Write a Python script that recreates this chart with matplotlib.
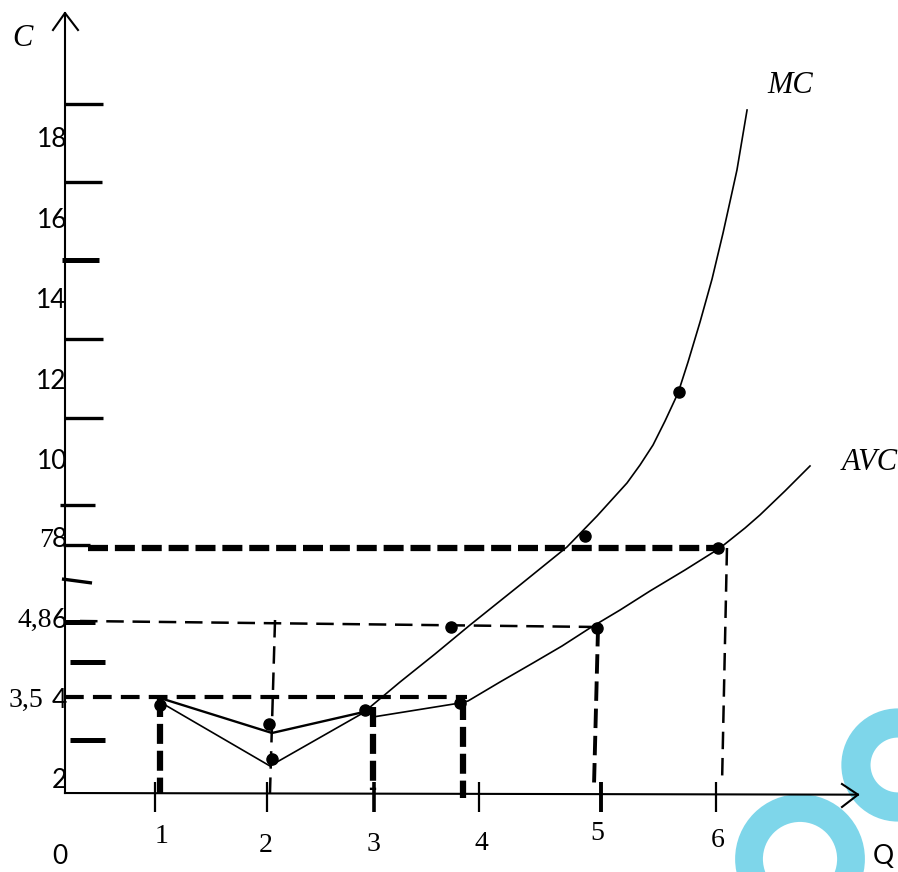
import matplotlib
matplotlib.use("Agg")
from matplotlib import pyplot as plt
from matplotlib.patches import Ellipse

# curves (Q, C)
mc_q = [1.043, 2.023, 2.852, 3.182, 3.494, 3.806, 4.251, 4.670, 4.938, 5.205, 5.321, 5.437, 5.544,
        5.660, 5.749, 5.856, 5.963, 6.061, 6.132, 6.185, 6.230, 6.275]
mc_c = [4.015, 2.423, 3.741, 4.512, 5.209, 5.930, 6.925, 7.871, 8.642, 9.463, 9.910, 10.408, 11.005,
        11.701, 12.473, 13.468, 14.537, 15.682, 16.577, 17.249, 17.995, 18.741]

avc_v_q = [1.043, 2.041, 2.897]
avc_v_c = [4.114, 3.244, 3.791]
avc_q = [2.941, 3.717, 3.788, 4.073, 4.367, 4.626, 4.875, 5.143, 5.410, 5.722, 6.034, 6.257, 6.390, 6.613, 6.836]
avc_c = [3.642, 3.990, 4.040, 4.512, 4.985, 5.408, 5.856, 6.303, 6.776, 7.299, 7.846, 8.343, 8.667, 9.264, 9.886]

# data points
dot_q = [1.043, 2.014, 2.041, 2.870, 3.717, 3.636, 4.938, 4.831, 5.668, 6.016]
dot_c = [3.940, 3.468, 2.597, 3.816, 3.990, 5.881, 5.856, 8.144, 11.726, 7.846]

# axis labels
x_ticks = [0.998, 1.996, 2.950, 3.886, 4.973, 5.998]
x_tick_lw = [1.6, 1.6, 2.6, 1.6, 2.8, 1.6]
x_labels = ["1", "2", "3", "4", "5", "6"]
x_label_q = [1.061, 1.988, 2.950, 3.904, 4.938, 6.016]
x_label_c = [0.657, 0.433, 0.458, 0.507, 0.756, 0.582]

y_labels = ["18", "16", "14", "12", "10", "8", "6", "4", "2"]
y_label_c = [18.0, 16.0, 14.0, 12.0, 10.0, 8.05, 6.05, 4.06, 2.07]
y_extra = ["7", "4,8", "3,5"]
y_extra_c = [8.03, 6.05, 4.06]
y_extra_q = [0.085, 0.082, 0.0]

# dashes on the C axis: (q0, q1, c0, c1, width)
ytk_q0 = [0.196, 0.196, 0.169, 0.196, 0.196, 0.152, 0.178, 0.169, 0.178, 0.241, 0.241]
ytk_q1 = [0.535, 0.526, 0.499, 0.535, 0.535, 0.463, 0.419, 0.437, 0.463, 0.553, 0.553]
ytk_c0 = [18.891, 16.950, 15.010, 13.045, 11.080, 8.915, 7.920, 7.075, 6.005, 5.010, 3.070]
ytk_c1 = [18.891, 16.950, 15.010, 13.045, 11.080, 8.915, 7.920, 6.975, 6.005, 5.010, 3.070]
ytk_lw = [2.4, 2.4, 3.6, 2.4, 2.4, 2.4, 2.4, 2.4, 3.6, 3.6, 3.6]

fig = plt.figure(figsize=(8.98, 8.72), dpi=100)
ax = fig.add_axes([0, 0, 1, 1])
ax.set_xlim(-0.3832, 7.6203)
ax.set_ylim(-0.2139, 21.4776)
ax.axis("off")

ring = "#7ed6ea"
ax.add_patch(Ellipse((6.747, 0.109), 0.909, 2.537, fill=False, ec=ring, lw=20))
ax.add_patch(Ellipse((7.620, 2.448), 0.749, 2.09, fill=False, ec=ring, lw=21))

# axes with arrows
ax.plot([0.196, 0.196], [1.751, 21.154], color="black", lw=1.5)
ax.plot([0.089, 0.196, 0.312], [20.731, 21.154, 20.731], color="black", lw=1.5)
ax.plot([0.196, 7.264], [1.751, 1.71], color="black", lw=1.5)
ax.plot([7.121, 7.264, 7.121], [1.975, 1.71, 1.403], color="black", lw=1.5)

for i in range(len(ytk_q0)):
    ax.plot([ytk_q0[i], ytk_q1[i]], [ytk_c0[i], ytk_c1[i]], color="black", lw=ytk_lw[i], solid_capstyle="butt")
for i in range(len(x_ticks)):
    ax.plot([x_ticks[i], x_ticks[i]], [2.025, 1.279], color="black", lw=x_tick_lw[i], solid_capstyle="butt")

# guide lines
ax.plot([0.401, 6.034], [7.846, 7.846], color="black", lw=4.5, dashes=(3.2, 1.1))
ax.plot([6.096, 6.052], [7.846, 1.999], color="black", lw=1.8, dashes=(7, 3.5))
ax.plot([0.330, 4.938], [6.030, 5.881], color="black", lw=1.8, dashes=(7, 3.5))
ax.plot([4.947, 4.911], [5.881, 1.95], color="black", lw=2.8, dashes=(5, 2))
ax.plot([2.068, 2.023], [6.055, 1.751], color="black", lw=1.8, dashes=(7, 3.5))
ax.plot([0.196, 3.779], [4.139, 4.139], color="black", lw=3.0, dashes=(4.5, 2.2))
ax.plot([1.043, 1.043], [4.139, 1.751], color="black", lw=4.5, dashes=(3.2, 1.1))
ax.plot([2.941, 2.941], [3.891, 1.826], color="black", lw=4.5, dashes=(3.2, 1.1))
ax.plot([3.743, 3.743], [4.065, 1.627], color="black", lw=4.5, dashes=(3.2, 1.1))

# cost curves
ax.plot(mc_q, mc_c, color="black", lw=1.2, solid_joinstyle="round")
ax.plot(avc_v_q, avc_v_c, color="black", lw=1.7)
ax.plot(avc_q, avc_c, color="black", lw=1.2, solid_joinstyle="round")
ax.plot(dot_q, dot_c, "o", color="black", ms=8)

# texts
serif = "Liberation Serif"
sans = "Lato"
for i in range(len(y_labels)):
    ax.text(0.214, y_label_c[i], y_labels[i], family=sans, fontsize=19, ha="right", va="center")
for i in range(len(y_extra)):
    ax.text(y_extra_q[i], y_extra_c[i], y_extra[i], family=serif, fontsize=20, ha="right", va="center")
for i in range(len(x_labels)):
    ax.text(x_label_q[i], x_label_c[i], x_labels[i], family=serif, fontsize=20, ha="center", va="center")

ax.text(0.152, 0.16, "0", family=sans, fontsize=19, ha="center", va="center")
ax.text(7.49, 0.16, "Q", family=sans, fontsize=19, ha="center", va="center")
ax.text(-0.187, 20.532, "C", family=serif, style="italic", fontsize=22, ha="center", va="center")
ax.text(6.658, 19.363, "MC", family=serif, style="italic", fontsize=22, ha="center", va="center")
ax.text(7.371, 9.985, "AVC", family=serif, style="italic", fontsize=22, ha="center", va="center")

plt.savefig("out.png", dpi=100)
